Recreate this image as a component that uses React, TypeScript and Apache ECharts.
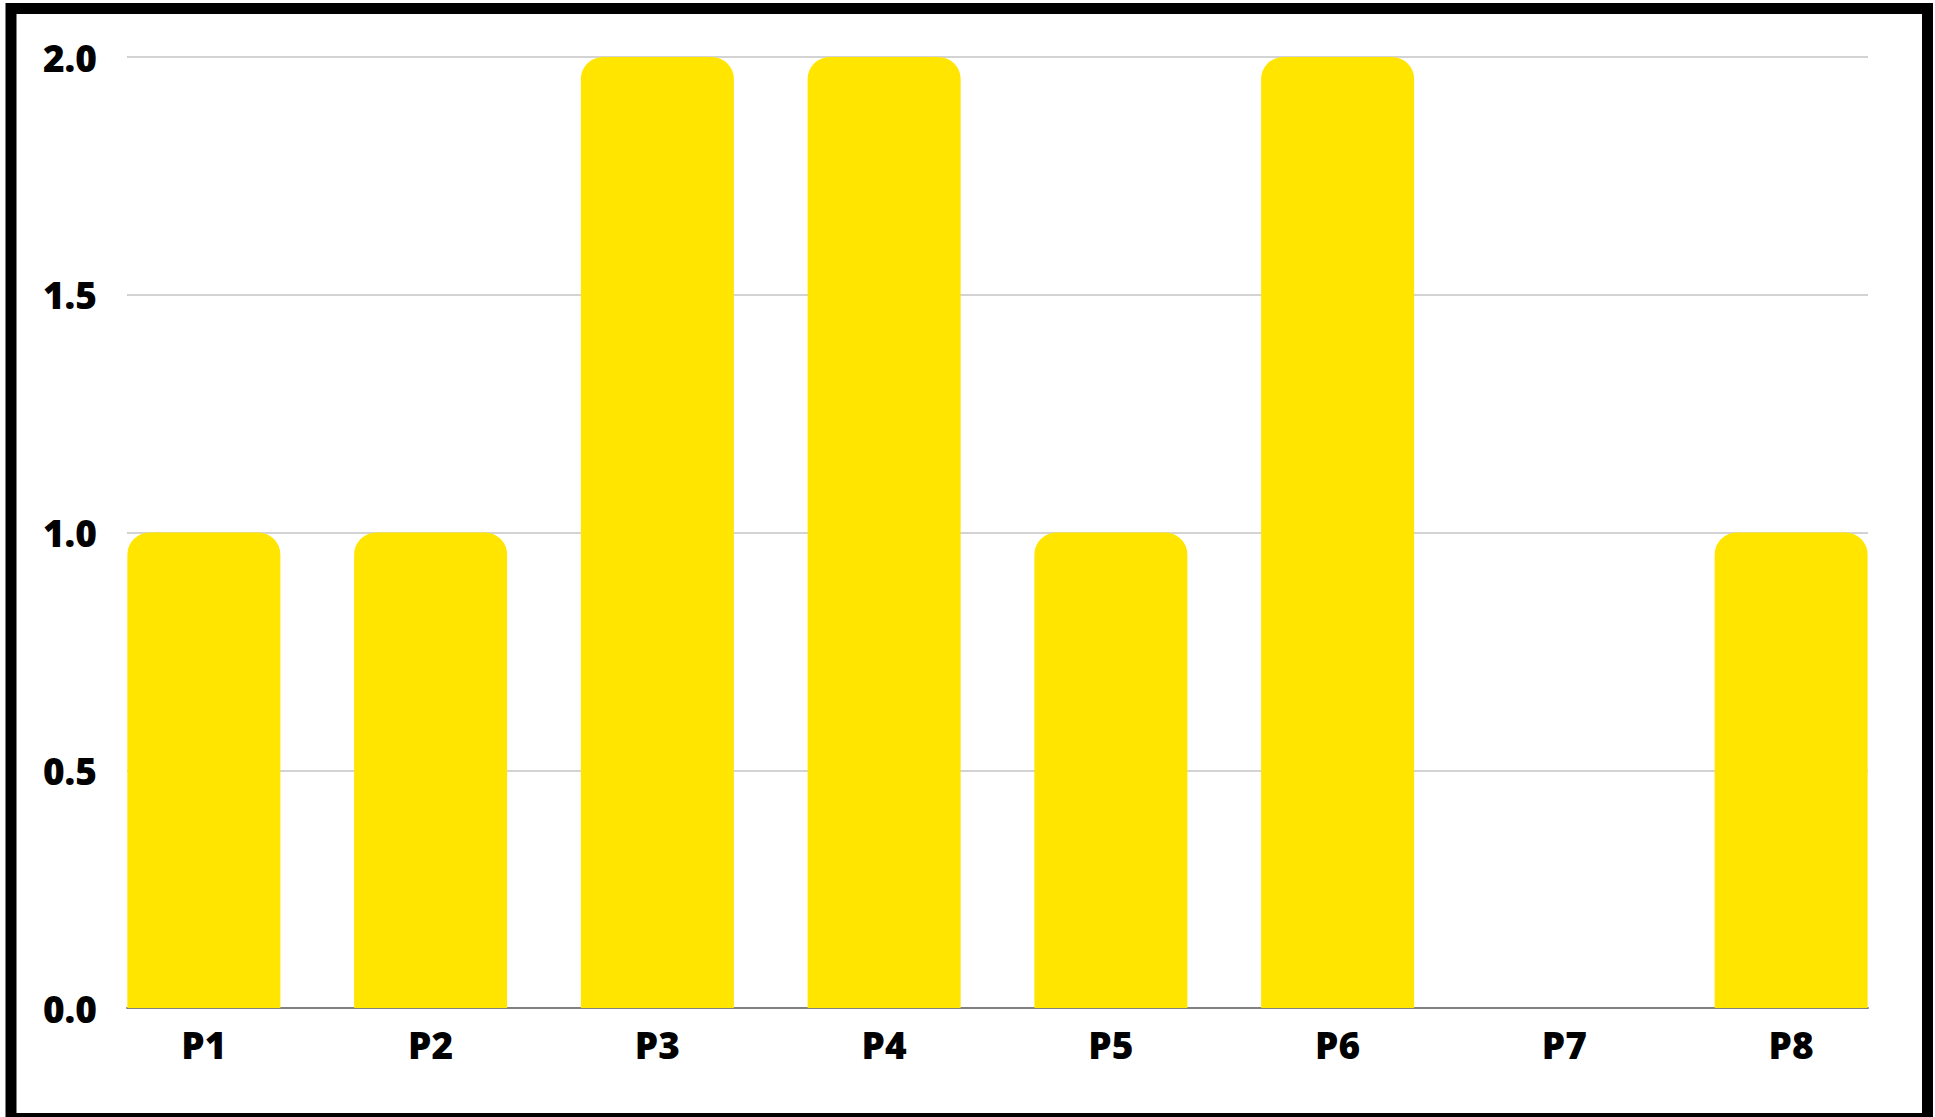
import React, { useEffect, useRef } from "react";
import * as echarts from "echarts";

const categories = ["P1", "P2", "P3", "P4", "P5", "P6", "P7", "P8"];
const values = [1, 1, 2, 2, 1, 2, 0, 1];
const yTicks = [0, 0.5, 1, 1.5, 2];

export default function App() {
  const ref = useRef<HTMLDivElement>(null);
  useEffect(() => {
    if (!ref.current) return;
    const chart = echarts.init(ref.current, null, { renderer: "svg" });
    const font = "'Open Sans', 'DejaVu Sans', sans-serif";
    const yMin = yTicks[0];
    const yMax = yTicks[yTicks.length - 1];
    chart.setOption({
      animation: false,
      backgroundColor: "#ffffff",
      graphic: [
        {
          type: "rect",
          shape: { x: 11, y: 8.5, width: 1916.5, height: 1110 },
          style: { fill: "none", stroke: "#000000", lineWidth: 11 },
          z: 100,
        },
      ],
      grid: [
        { left: 127, right: 67, top: 57, bottom: 109, containLabel: false },
        { left: 90.5, right: 30.5, top: 57, bottom: 109, containLabel: false },
      ],
      xAxis: [
        {
          type: "category",
          gridIndex: 0,
          data: categories,
          axisTick: { show: false },
          axisLabel: { show: false },
          axisLine: { show: true, lineStyle: { color: "#808080", width: 2 } },
          z: 1,
        },
        {
          type: "category",
          gridIndex: 1,
          data: categories,
          axisTick: { show: false },
          axisLine: { show: false },
          axisLabel: {
            margin: 18,
            color: "#000000",
            fontFamily: font,
            fontWeight: 800,
            fontSize: 37,
          },
        },
      ],
      yAxis: [
        {
          type: "value",
          gridIndex: 0,
          min: yMin,
          max: yMax,
          interval: 0.5,
          axisLine: { show: false },
          axisTick: { show: false },
          splitLine: { lineStyle: { color: "#c4c4c4", width: 1.5 } },
          axisLabel: {
            margin: 30,
            color: "#000000",
            fontFamily: font,
            fontWeight: 800,
            fontSize: 37,
            formatter: (v: number) => v.toFixed(1),
          },
        },
        {
          type: "value",
          gridIndex: 1,
          min: yMin,
          max: yMax,
          interval: 0.5,
          show: false,
          splitLine: { show: false },
        },
      ],
      series: [
        {
          type: "bar",
          xAxisIndex: 1,
          yAxisIndex: 1,
          data: values,
          barWidth: 153,
          itemStyle: { color: "#FFE500", borderRadius: [22, 22, 0, 0] },
          z: 5,
        },
      ],
    });
    return () => chart.dispose();
  }, []);
  return (
    <div
      ref={ref}
      style={{ position: "fixed", left: 0, top: 0, width: 1935, height: 1117 }}
    />
  );
}
